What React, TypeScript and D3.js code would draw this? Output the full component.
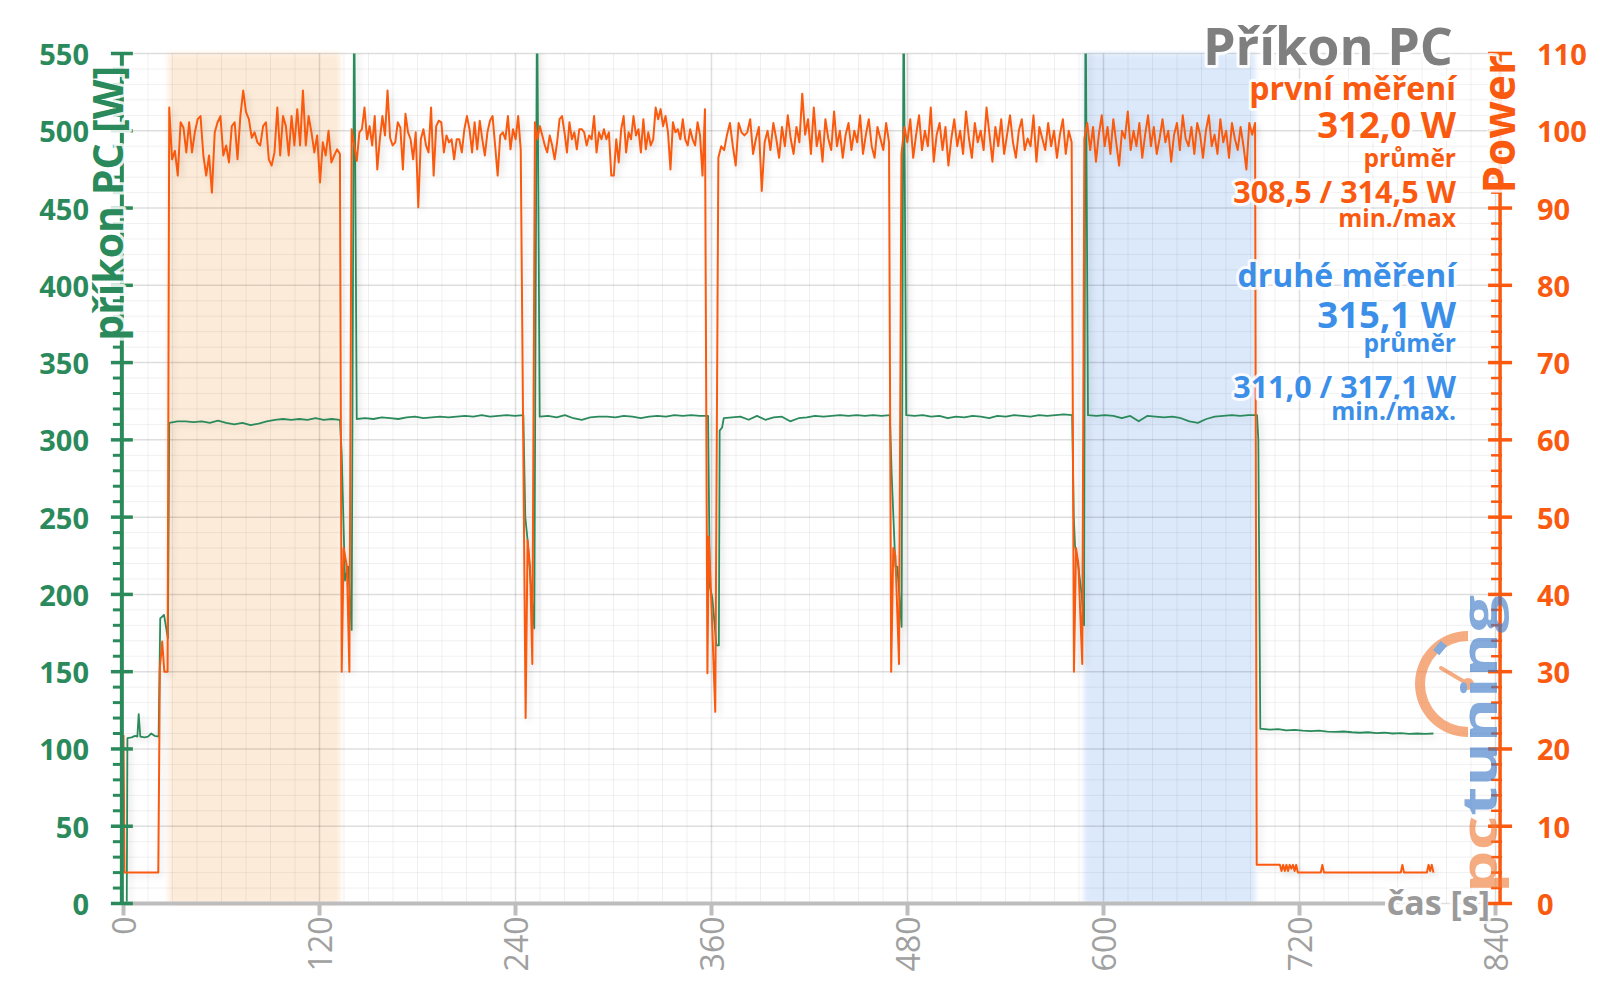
import React from 'react';
import * as d3 from 'd3';

type Pt = [number, number];

const timeTicks = [0, 120, 240, 360, 480, 600, 720, 840];
const wattTicks = [0, 50, 100, 150, 200, 250, 300, 350, 400, 450, 500, 550];
const powerTicks = [0, 10, 20, 30, 40, 50, 60, 70, 80, 90, 100, 110];

// shaded measuring windows [s]
const firstBand: Pt = [27.5, 132.6];
const secondBand: Pt = [588, 693];

const firstStats = ['první měření', '312,0 W', 'průměr', '308,5 / 314,5 W', 'min./max'];
const secondStats = ['druhé měření', '315,1 W', 'průměr', '311,0 / 317,1 W', 'min./max.'];

// ---- příkon PC [W] (left axis) ----
const greenStart: Pt[] = [[0, 0], [2, 0], [2.4, 107], [5, 107.5], [7, 108.5], [8.5, 108], [9.3, 122.6], [10.3, 108],
  [13, 107.5], [15, 108], [17, 110], [19, 108.5], [21.5, 108], [22.5, 184.5], [24.8, 186.7], [27.2, 171.6]];
const greenRun1 = [311, 312, 312, 311.5, 312, 311, 312.5, 311, 310, 311, 309.5, 310.5, 312, 313, 313.5, 313, 313.5, 313, 314, 313, 313.5, 313];
const greenGap1: Pt[] = [[133.6, 291], [135.6, 209], [137.6, 218], [139.7, 177], [141.2, 600]];
const greenRun2 = [313.5, 314, 313.5, 314.5, 314, 313.5, 314.5, 315, 314, 314.5, 315, 314.5, 315, 315.5, 315, 316, 315, 315.5, 316, 315.5, 316];
const greenGap2: Pt[] = [[246, 250], [247.4, 235], [249.5, 205], [251.5, 178], [253.2, 600]];
const greenRun3 = [315, 315.5, 314.5, 316, 314, 313, 314.5, 315, 315, 314.5, 315.5, 315, 314, 315, 315.5, 315, 316, 315.5, 316, 315.5, 315.5];
const greenGap3: Pt[] = [[359, 205], [360.5, 198], [363, 167], [364.5, 167], [365, 306], [366.5, 308]];
const greenRun4 = [314, 314.5, 315, 313, 315.5, 313, 314.5, 315, 312, 314, 314.5, 315.5, 315, 315.5, 316, 315.5, 316, 315.5, 316, 315.5, 316];
const greenGap4: Pt[] = [[470.3, 278], [472.6, 218], [473.8, 218], [476.4, 179], [477.6, 600]];
const greenRun5 = [316, 315.5, 316, 315, 315.5, 314, 315, 314.5, 315.5, 315, 314, 315.5, 315, 316, 315.5, 315, 316, 315.5, 316, 316.5, 316];
const greenGap5: Pt[] = [[581.8, 250], [582.6, 231], [584.6, 218], [586.6, 200], [588.1, 180], [589, 600]];
const greenRun6 = [316, 315.5, 316, 315.5, 314, 315.5, 312, 315.5, 315, 314.5, 315, 314, 312, 311, 313.5, 315, 315.5, 316, 315.5, 316, 316];
const greenGap6: Pt[] = [[694.8, 300], [696, 113]];
const greenTail = [113, 112.5, 112.8, 112, 112.3, 111.8, 111.5, 111.8, 111.2, 111, 111.3, 110.8, 110.5, 110.8, 110.2, 110.5, 110, 110.3, 109.8, 110, 109.7, 110];

// ---- Power (right axis) ----
const powerStart: Pt[] = [[0, 21.8], [0.6, 4], [21.3, 4], [22.3, 30.6], [23.7, 33.9], [25, 30], [27, 30]];
const powerRun1 = [103, 96.3, 97.4, 94.2, 101.1, 100.4, 97.2, 101.1, 97.2, 99.8, 101.5, 101.9, 96.8, 94.2, 96.8, 92, 99.8, 101.1, 101.9, 96.8,
  98.1, 95.9, 100.6, 101.1, 96.3, 101.9, 105.2, 102.4, 101.5, 99.1, 99.8, 98.5, 98.1, 100.6, 101.1, 96.3, 95.5, 97.2, 103, 96.8,
  101.9, 100.6, 96.8, 101.9, 98.1, 102.8, 98.1, 105.2, 98.1, 101.9, 99.8, 97.2, 99.4, 93.3, 98.5, 96.8, 100, 95.9, 96.8, 97.6, 97];
const powerGap1: Pt[] = [[133.6, 30], [134.8, 46], [136.8, 43.6], [138.3, 30]];
const powerRun2 = [100.2, 98.1, 96.1, 99.8, 100.2, 103, 98.9, 100.6, 98.1, 101.9, 95, 98.9, 101.9, 99.4, 105.2, 99.1, 98.1, 98.5, 101.1, 100.4,
  95, 102.2, 99.8, 98.9, 96.3, 99.8, 90.1, 98.9, 100.2, 98.1, 97.2, 103, 94.2, 100.6, 101.3, 101.1, 97.2, 99.4, 98.5, 98.9,
  96.3, 98.9, 98.9, 97.2, 100.2, 101.9, 100.2, 97.2, 101.1, 97.6, 101.3, 98.9, 96.8, 99.8, 101.3, 101.9, 98.1, 94.2, 99.4, 99.8,
  98.9, 101.9, 97.6, 100.2, 98.9, 101.9, 97.6];
const powerGap2: Pt[] = [[246.2, 24], [247.4, 47], [248.9, 43.6], [250.3, 31]];
const powerRun3 = [101.1, 98.9, 100.6, 99.4, 98.1, 97.2, 99.4, 98.1, 96.3, 98.5, 101.5, 101.9, 99.8, 97.2, 101.1, 98.9, 99.8, 97.6, 100.2, 100.2,
  99.8, 98.1, 99.4, 98.9, 101.9, 97.2, 99.8, 98.9, 100.2, 98.9, 99.8, 94.2, 94.2, 98.9, 95.9, 100.2, 101.9, 97.2, 99.8, 98.9,
  101.9, 99.4, 100.2, 97.2, 101.5, 97.6, 99.8, 98.1, 98.9, 103, 101.5, 102.8, 100.6, 101.9, 99.8, 95, 101.1, 99.8, 100.2, 98.9,
  101.5, 98.9, 98.1, 100.2, 98.9, 98.1, 101.1, 99.4, 94.2, 102.8];
const powerGap3: Pt[] = [[357.5, 29.8], [358.3, 47.5], [360.1, 38], [362.3, 24.8]];
const powerRun4 = [96.5, 98, 97.5, 99.5, 101, 98, 95.5, 101, 99.8, 99.4, 99.8, 101.5, 97, 99, 100.5, 92.2, 98.5, 100, 97.5, 101,
  99, 96.5, 100.5, 98, 102, 99, 97, 100.5, 98.5, 104.8, 99.5, 101.5, 97, 103, 98, 100, 96, 101.5, 99, 97.5,
  102.5, 98, 100, 96.5, 99.5, 101, 97.5, 100, 98.5, 102, 97, 99.5, 101.5, 98, 96.5, 100.5, 99, 97.5, 101, 98.5];
const powerGap4: Pt[] = [[470, 30], [471.3, 46], [472.6, 45], [474.8, 31]];
const powerRun5 = [97, 100.5, 98.5, 101.5, 96.5, 99.5, 102, 97.5, 100, 98, 103, 96, 99.5, 101, 97.5, 100.5, 95.5, 99, 101.5, 98,
  100, 97, 102.5, 99, 96.5, 101, 98.5, 100, 97.5, 103, 99.5, 96, 100.5, 98, 101.5, 97, 99.5, 102, 98.5, 96.5,
  100, 101.5, 97.5, 99, 98, 102, 96, 100.5, 99, 97.5, 101, 98, 100, 96.5, 99.5, 101.5, 97, 100, 98.5];
const powerGap5: Pt[] = [[581.9, 30], [583.2, 46], [584.6, 44], [587, 31]];
const powerRun6 = [99, 101, 97.5, 100.5, 96, 99.5, 102, 98, 100.5, 97, 101.5, 98.5, 95.5, 100, 99, 102.5, 97.5, 100, 98, 101,
  96.5, 99.5, 102, 98, 100.5, 97, 99, 101.5, 98.5, 100, 96, 99.5, 101, 97.5, 102, 99, 98, 100.5, 97, 101,
  99.5, 96.5, 100, 102, 98, 99.5, 97, 101.5, 98.5, 100, 96.5, 101, 99, 97.5, 100.5, 98, 95, 101, 99.5, 101];
const powerTail: Pt[] = [[693.8, 5], [708, 5], [709, 4.2], [710, 5], [711, 4.2], [712, 5], [713, 4.2], [714, 5], [715, 4.5],
  [716, 5], [717, 4.2], [718, 5], [719, 4], [733, 4], [734, 5], [735, 4], [782, 4], [783, 5], [784, 4], [798, 4],
  [799, 5], [800, 4.2], [801, 5], [802, 4]];

// spread a run of samples evenly over its time window
const run = (from: number, to: number, values: number[]): Pt[] => {
  const step = (to - from) / (values.length - 1);
  return values.map((v, i) => [from + i * step, v] as Pt);
};

const greenSeries: Pt[] = [
  ...greenStart,
  ...run(28, 132.5, greenRun1), ...greenGap1,
  ...run(142.8, 244.8, greenRun2), ...greenGap2,
  ...run(254.8, 357.9, greenRun3), ...greenGap3,
  ...run(367.5, 469.2, greenRun4), ...greenGap4,
  ...run(479.2, 580.8, greenRun5), ...greenGap5,
  ...run(590.5, 694, greenRun6), ...greenGap6,
  ...run(697, 802, greenTail),
];

const powerSeries: Pt[] = [
  ...powerStart,
  ...run(28, 132.5, powerRun1), ...powerGap1,
  ...run(139.7, 243.2, powerRun2), ...powerGap2,
  ...run(251.9, 356, powerRun3), ...powerGap3,
  ...run(364.2, 468.7, powerRun4), ...powerGap4,
  ...run(476.3, 580.5, powerRun5), ...powerGap5,
  ...run(588.3, 692.8, powerRun6),
  ...powerTail,
];

const GREEN = '#2b8a5b';
const ORANGE = '#fa5a0f';
const BLUE = '#3b8fe8';
const FONT = '"Open Sans", "DejaVu Sans", sans-serif';

export default function App() {
  const x = d3.scaleLinear().domain([0, 840]).range([123.5, 1495.5]);
  const yL = d3.scaleLinear().domain([0, 550]).range([903.5, 53.5]);
  const yR = d3.scaleLinear().domain([0, 110]).range([903.5, 53.5]);

  const lineL = d3.line<Pt>().x(d => x(d[0])).y(d => yL(d[1]));
  const lineR = d3.line<Pt>().x(d => x(d[0])).y(d => yR(d[1]));

  const left = x(-1);
  const right = x(842.8);
  const top = yL(550);
  const bottom = yL(0);

  const minorY = d3.range(0, 551, 10).filter(v => v % 50 !== 0);
  const minorX = d3.range(0, 841, 15).filter(v => v % 120 !== 0);
  const leftMinor = d3.range(0, 551, 10).filter(v => v % 50 !== 0);
  const rightMinor = d3.range(0, 111, 2).filter(v => v % 10 !== 0);

  const statX = 1456;
  const firstLayout = [
    { y: 100, size: 32 }, { y: 138, size: 36.5 }, { y: 167, size: 24.5 }, { y: 203, size: 30.5 }, { y: 227, size: 24.5 },
  ];
  const secondLayout = [
    { y: 287, size: 32 }, { y: 328, size: 36.5 }, { y: 352, size: 24.5 }, { y: 398, size: 30.5 }, { y: 420, size: 24.5 },
  ];

  const halo = { stroke: '#fff', strokeWidth: 6, strokeLinejoin: 'round' as const, paintOrder: 'stroke' as const, strokeOpacity: 0.85 };

  return (
    <div style={{ position: 'absolute', left: 0, top: 0 }}>
      <svg width={1600} height={998} viewBox="0 0 1600 998" style={{ display: 'block', background: '#fff', fontFamily: FONT }}>
        <defs>
          <clipPath id="plot">
            <rect x={left} y={top} width={right - left} height={bottom - top} />
          </clipPath>
          <filter id="soft" x="-5%" y="-5%" width="110%" height="110%">
            <feGaussianBlur stdDeviation={2.5} />
          </filter>
          <filter id="shadow" x="-5%" y="-5%" width="110%" height="110%">
            <feDropShadow dx={3} dy={3} stdDeviation={3} floodColor="#000" floodOpacity={0.13} />
          </filter>
        </defs>

        {/* shaded windows */}
        <g filter="url(#soft)">
          <rect x={x(firstBand[0])} y={top} width={x(firstBand[1]) - x(firstBand[0])} height={bottom - top} fill="#fdebd9" />
          <rect x={x(secondBand[0])} y={top} width={x(secondBand[1]) - x(secondBand[0])} height={bottom - top} fill="#dbe9fb" />
        </g>

        {/* grid */}
        <g>
          {minorY.map(v => (
            <line key={`my${v}`} x1={left} x2={right} y1={yL(v)} y2={yL(v)} stroke="#000" strokeOpacity={0.06} strokeWidth={1} />
          ))}
          {minorX.map(v => (
            <line key={`mx${v}`} x1={x(v)} x2={x(v)} y1={top} y2={bottom} stroke="#000" strokeOpacity={0.06} strokeWidth={1} />
          ))}
          {wattTicks.map(v => (
            <line key={`gy${v}`} x1={left} x2={right} y1={yL(v)} y2={yL(v)} stroke="#000" strokeOpacity={0.13} strokeWidth={1.5} />
          ))}
          {timeTicks.filter(v => v > 0).map(v => (
            <line key={`gx${v}`} x1={x(v)} x2={x(v)} y1={top} y2={bottom} stroke="#000" strokeOpacity={0.13} strokeWidth={1.5} />
          ))}
        </g>

        {/* series */}
        <g clipPath="url(#plot)" filter="url(#shadow)">
          <path d={lineL(greenSeries) ?? ''} fill="none" stroke={GREEN} strokeWidth={1.8} strokeLinejoin="round" />
          <path d={lineR(powerSeries) ?? ''} fill="none" stroke={ORANGE} strokeWidth={2} strokeLinejoin="round" />
        </g>

        {/* x axis */}
        <line x1={left} x2={1385} y1={bottom} y2={bottom} stroke="#bdbdbd" strokeWidth={4} />
        {timeTicks.map(v => (
          <g key={`xt${v}`}>
            <line x1={x(v)} x2={x(v)} y1={bottom} y2={bottom + 12} stroke="#bdbdbd" strokeWidth={4} />
            <text transform={`translate(${x(v)},${bottom + 13}) rotate(-90)`} textAnchor="end" dominantBaseline="central"
              fontSize={32} fill="#a0a0a0">{v}</text>
          </g>
        ))}
        <text x={1490} y={915} textAnchor="end" fontSize={34} fontWeight={700} fill="#9a9a9a" {...halo}>čas [s]</text>

        {/* left axis */}
        <line x1={left} x2={left} y1={top} y2={bottom} stroke={GREEN} strokeWidth={4} />
        {leftMinor.map(v => (
          <line key={`lm${v}`} x1={left - 9} x2={left} y1={yL(v)} y2={yL(v)} stroke={GREEN} strokeWidth={3} />
        ))}
        {wattTicks.map(v => (
          <g key={`lt${v}`}>
            <line x1={left - 11} x2={left + 11} y1={yL(v)} y2={yL(v)} stroke={GREEN} strokeWidth={3.5} />
            <text x={89} y={yL(v)} textAnchor="end" dominantBaseline="central" fontSize={29} fontWeight={700} fill={GREEN}>{v}</text>
          </g>
        ))}
        <text transform={`translate(${left + 1},66) rotate(-90)`} textAnchor="end" fontSize={41} fontWeight={700} fill={GREEN} {...halo}>
          příkon PC [W]
        </text>

        {/* right axis */}
        <line x1={right} x2={right} y1={top} y2={bottom} stroke={ORANGE} strokeWidth={3.5} />
        {rightMinor.map(v => (
          <line key={`rm${v}`} x1={right - 9} x2={right + 2} y1={yR(v)} y2={yR(v)} stroke={ORANGE} strokeWidth={2.5} />
        ))}
        {powerTicks.map(v => (
          <g key={`rt${v}`}>
            <line x1={right - 12} x2={right + 12} y1={yR(v)} y2={yR(v)} stroke={ORANGE} strokeWidth={3.5} />
            <text x={1537} y={yR(v)} dominantBaseline="central" fontSize={29} fontWeight={700} fill={ORANGE}>{v}</text>
          </g>
        ))}
        <text transform="translate(1515,55) rotate(-90)" textAnchor="end" fontSize={44} fontWeight={700} fill={ORANGE} {...halo}>
          Power
        </text>

        {/* logo */}
        <g opacity={0.62}>
          <path d={d3.arc()({ innerRadius: 43, outerRadius: 53, startAngle: Math.PI, endAngle: 2 * Math.PI }) ?? ''}
            transform="translate(1468,684)" fill="#f27a35" />
          <rect x={-6} y={-4} width={12} height={8} fill="#3a78c8" transform="translate(1440,648) rotate(-50)" />
          <line x1={1468} y1={684} x2={1441} y2={668} stroke="#f27a35" strokeWidth={4} strokeLinecap="round" />
          <circle cx={1468} cy={684} r={6} fill="#f27a35" />
          <text transform="translate(1497,893) rotate(-90)" fontSize={48} fontWeight={700} textLength={298}
            lengthAdjust="spacingAndGlyphs">
            <tspan fill="#f27a35">pc</tspan>
            <tspan fill="#3a78c8">tuning</tspan>
          </text>
        </g>

        {/* title and stats */}
        <text x={1453} y={65} textAnchor="end" fontSize={52} fontWeight={700} fill="#7f7f7f" {...halo}>Příkon PC</text>
        {firstStats.map((s, i) => (
          <text key={`f${i}`} x={statX} y={firstLayout[i].y} textAnchor="end" fontSize={firstLayout[i].size}
            fontWeight={700} fill={ORANGE} {...halo}>{s}</text>
        ))}
        {secondStats.map((s, i) => (
          <text key={`s${i}`} x={statX} y={secondLayout[i].y} textAnchor="end" fontSize={secondLayout[i].size}
            fontWeight={700} fill={BLUE} {...halo}>{s}</text>
        ))}
      </svg>
    </div>
  );
}
